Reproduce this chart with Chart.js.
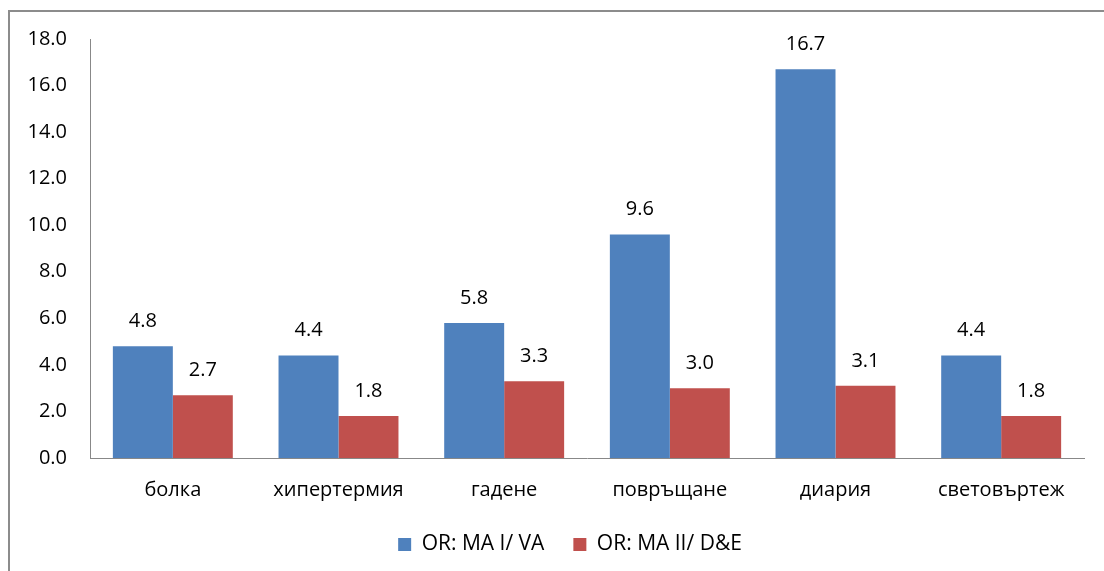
<!DOCTYPE html>
<html><head><meta charset="utf-8">
<script src="https://cdn.jsdelivr.net/npm/chart.js@4"></script>
<style>
html,body{margin:0;padding:0;background:#fff;overflow:hidden}
#frame{position:absolute;left:8px;top:10px;width:1200px;height:700px;border:2px solid #8c8c8c;box-sizing:border-box}
#wrap{position:absolute;left:0;top:0;width:1104px;height:571px}
</style></head><body>
<div id="frame"></div>
<div id="wrap"><canvas id="c" width="1104" height="571"></canvas></div>
<script>
const categories = ["болка","хипертермия","гадене","повръщане","диария","световъртеж"];
const seriesNames = ["OR: MA I/ VA","OR: MA II/ D&E"];
const seriesA = [4.8,4.4,5.8,9.6,16.7,4.4];
const seriesB = [2.7,1.8,3.3,3.0,3.1,1.8];
const yTicks = [0,2,4,6,8,10,12,14,16,18];

const FONT = "'Open Sans', 'Noto Sans', sans-serif";
const FS = 20;

const valueLabels = {
  id:'valueLabels',
  afterDatasetsDraw(chart){
    const ctx = chart.ctx;
    ctx.save();
    ctx.font = FS + "px " + FONT;
    ctx.fillStyle = "#000";
    ctx.textAlign = "center";
    ctx.textBaseline = "middle";
    chart.data.datasets.forEach((ds,i)=>{
      chart.getDatasetMeta(i).data.forEach((bar,j)=>{
        ctx.fillText(ds.data[j].toFixed(1), bar.x, bar.y - 25);
      });
    });
    ctx.restore();
  }
};

const legendShift = {
  id:'legendShift',
  afterLayout(chart){
    chart.legend.left += 28;
    chart.legend.right += 28;
  }
};

new Chart(document.getElementById('c'),{
  type:'bar',
  data:{
    labels:categories,
    datasets:[
      {label:seriesNames[0],data:seriesA,backgroundColor:'#4F81BD'},
      {label:seriesNames[1],data:seriesB,backgroundColor:'#C0504D'}
    ]
  },
  options:{
    responsive:false,
    animation:false,
    devicePixelRatio:1,
    layout:{padding:{left:0,right:20,top:39,bottom:6}},
    datasets:{bar:{barPercentage:1,categoryPercentage:0.724}},
    plugins:{
      legend:{
        position:'bottom',
        labels:{font:{family:FONT,size:21},color:'#000',boxWidth:13,boxHeight:13,padding:29}
      },
      tooltip:{enabled:false}
    },
    scales:{
      x:{
        grid:{display:false,drawTicks:false},
        border:{display:true,color:'#888',width:1},
        ticks:{font:{family:FONT,size:FS},color:'#000',padding:20,maxRotation:0},
        afterFit(s){ s.height = 571 - 458 - s.chart.legend.height - 6; }
      },
      y:{
        min:0,max:18,
        afterBuildTicks(s){ s.ticks = yTicks.map(v=>({value:v})); },
        grid:{display:false,drawTicks:false},
        border:{display:true,color:'#888',width:1},
        ticks:{font:{family:FONT,size:FS},color:'#000',padding:23,callback:v=>Number(v).toFixed(1)},
        afterFit(s){ s.width = 90; }
      }
    }
  },
  plugins:[valueLabels, legendShift]
});
</script>
</body></html>
